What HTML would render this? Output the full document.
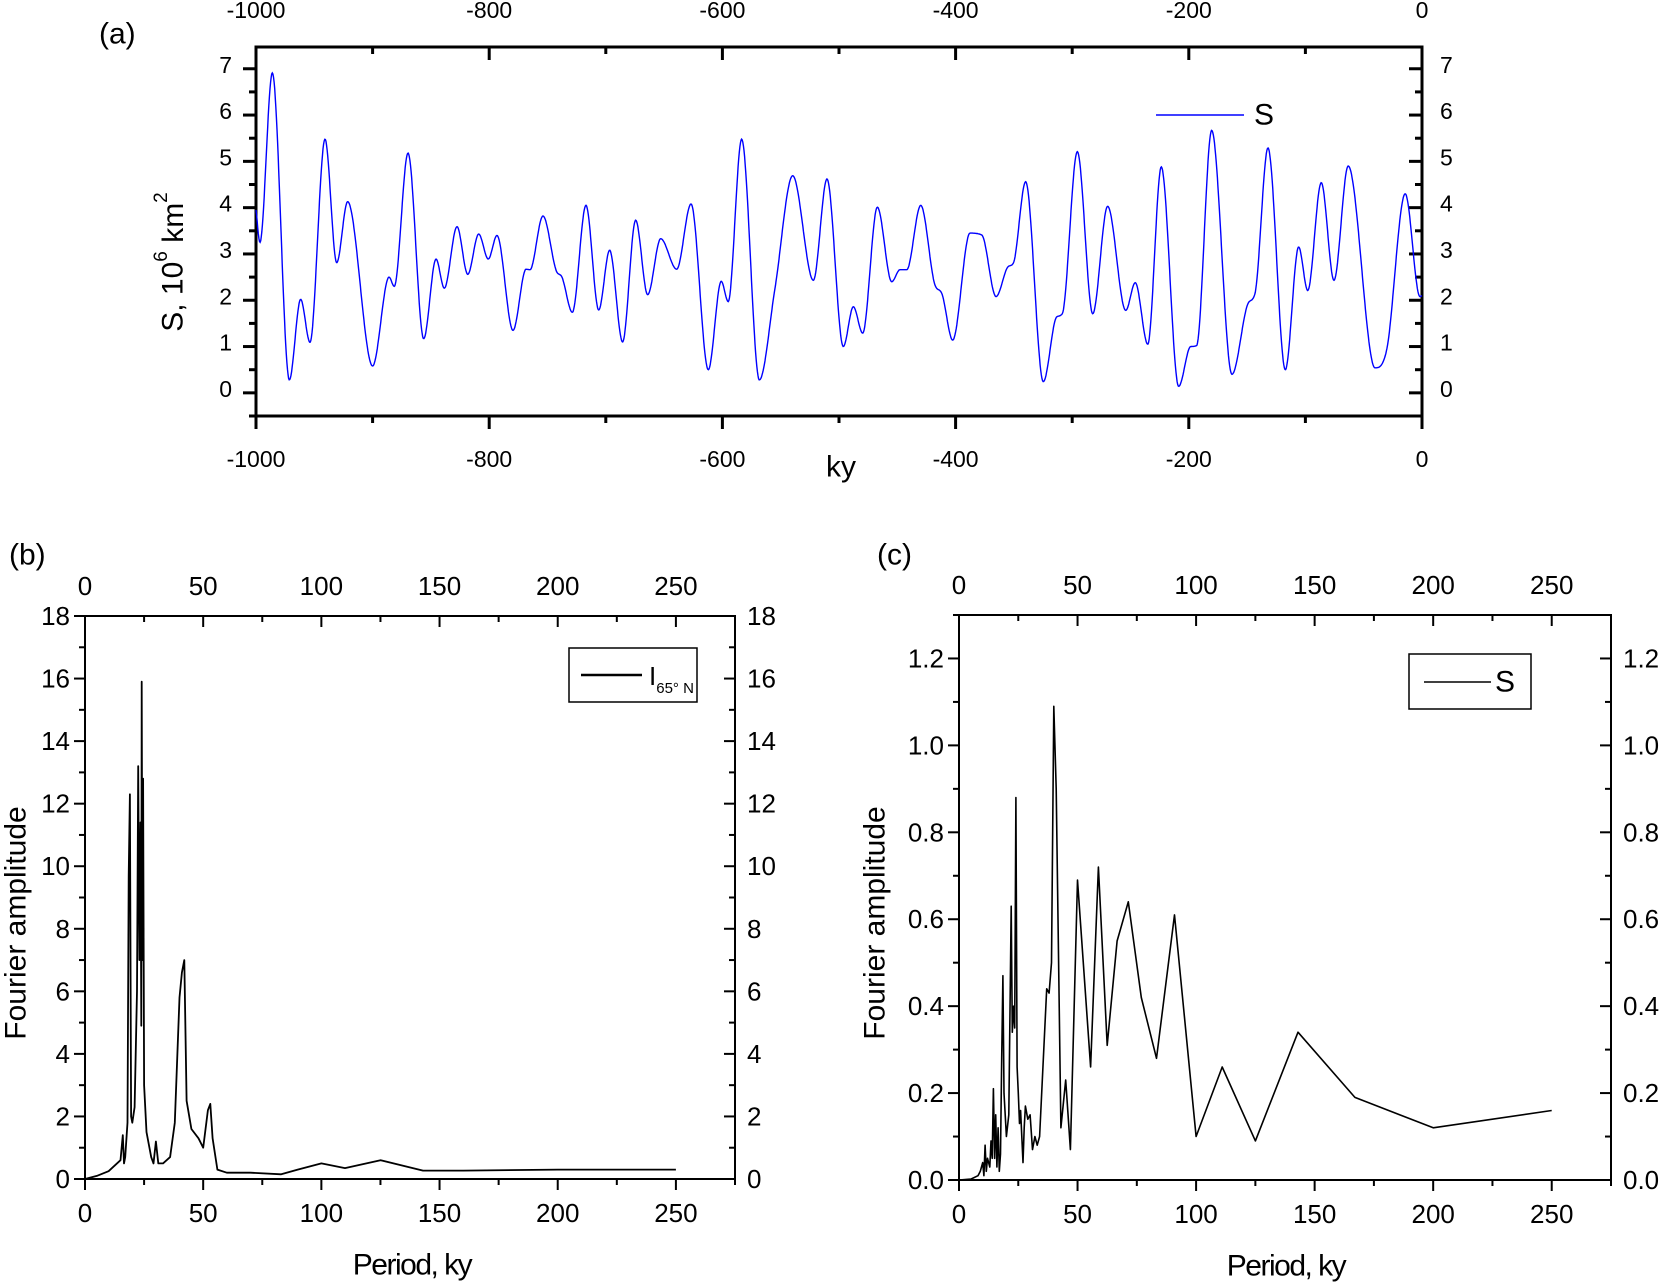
<!DOCTYPE html>
<html><head><meta charset="utf-8"><style>
html,body{margin:0;padding:0;background:#fff;}
svg{display:block;font-family:"Liberation Sans",Arial,sans-serif;}
</style></head><body>
<svg id="fig" width="1664" height="1284" viewBox="0 0 1664 1284" xmlns="http://www.w3.org/2000/svg">
<rect x="0" y="0" width="1664" height="1284" fill="#fff"/>
<g id="pa"></g>
<g id="pb"></g>
<g id="pc"></g>
</svg>
<script>
// Panel (a) data: S time series extrema (ky, 10^6 km^2)
const aTimes = [-1000,-996.6,-986.0,-971.4,-961.7,-953.7,-940.8,-930.8,-921.4,-900.0,-885.9,-881.4,-869.6,-856.2,-845.6,-838.5,-827.6,-818.4,-809.0,-800.8,-793.3,-779.6,-768.4,-765.0,-753.9,-742.2,-737.8,-728.7,-717.0,-706.1,-696.7,-685.6,-674.4,-664.1,-652.9,-639.2,-626.9,-612.1,-601.0,-595.0,-583.5,-568.3,-554.9,-539.7,-522.0,-510.3,-496.3,-487.7,-479.7,-467.1,-454.8,-447.7,-441.9,-429.9,-417.7,-411.9,-402.5,-387.7,-377.6,-365.3,-354.8,-350.5,-339.9,-324.8,-313.3,-308.5,-295.6,-282.4,-269.6,-254.1,-245.9,-235.2,-223.6,-208.7,-198.4,-193.3,-180.4,-163.0,-149.0,-143.2,-132.1,-117.2,-105.8,-98.0,-86.4,-75.5,-63.3,-40.3,-30.3,-14.4,-1.8,0];
const aValues = [3.95,3.25,6.91,0.28,2.02,1.09,5.48,2.81,4.13,0.58,2.50,2.30,5.18,1.17,2.89,2.26,3.59,2.56,3.43,2.89,3.40,1.35,2.67,2.66,3.82,2.62,2.51,1.74,4.05,1.79,3.08,1.10,3.73,2.12,3.33,2.67,4.08,0.50,2.41,1.97,5.48,0.28,2.26,4.69,2.43,4.62,1.00,1.86,1.29,4.01,2.40,2.66,2.66,4.05,2.33,2.15,1.14,3.45,3.41,2.08,2.73,2.80,4.56,0.24,1.64,1.71,5.21,1.71,4.03,1.78,2.38,1.05,4.88,0.14,1.00,1.02,5.67,0.40,1.94,2.15,5.29,0.50,3.15,2.21,4.54,2.43,4.90,0.54,0.93,4.30,2.08,2.10];
const aXTicks = [-1000,-800,-600,-400,-200,0];
const aYTicks = [0,1,2,3,4,5,6,7];
// Panel (b) data: Fourier amplitude of I65N
const bPeriods = [0,5,10,15,16,16.5,17,18,18.5,19,19.5,20,21,22,22.5,23,23.5,23.8,24,24.3,24.6,25,26,28,29,30,31,33,36,38,40,41,42,43,45,48,50,52,53,54,56,60,70,83,90,100,110,125,143,160,200,250];
const bAmps = [0,0.1,0.25,0.6,1.4,0.5,0.7,1.8,9.7,12.3,2.0,1.8,2.3,6.0,13.2,7.0,11.4,4.9,15.9,7.0,12.8,3.0,1.5,0.7,0.5,1.2,0.5,0.5,0.7,1.8,5.8,6.6,7.0,2.5,1.6,1.3,1.0,2.2,2.4,1.3,0.3,0.2,0.2,0.15,0.3,0.5,0.35,0.6,0.27,0.27,0.3,0.3];
const bXTicks = [0,50,100,150,200,250];
const bYTicks = [0,2,4,6,8,10,12,14,16,18];
// Panel (c) data: Fourier amplitude of S
const cPeriods = [0,5,8,9,10,10.5,11,11.5,12,13,13.5,14,14.5,15,15.5,16,16.5,17,17.5,18,18.5,19,20,21,22,22.5,23,23.5,24,24.5,25,25.5,26,27,27.5,28,29,30,31,32,33,34,37,38,39,40,41,43,45,47,50,55.5,58.8,62.5,66.7,71.4,76.9,83.3,90.9,100,111,125,143,167,200,250];
const cAmps = [0,0.002,0.01,0.02,0.04,0.01,0.08,0.02,0.05,0.03,0.09,0.05,0.21,0.05,0.15,0.03,0.12,0.02,0.06,0.28,0.47,0.2,0.1,0.15,0.63,0.34,0.4,0.35,0.88,0.26,0.2,0.13,0.16,0.04,0.12,0.17,0.14,0.15,0.07,0.1,0.08,0.1,0.44,0.43,0.5,1.09,0.9,0.12,0.23,0.07,0.69,0.26,0.72,0.31,0.55,0.64,0.42,0.28,0.61,0.1,0.26,0.09,0.34,0.19,0.12,0.16];
const cXTicks = [0,50,100,150,200,250];
const cYTicks = [0,0.2,0.4,0.6,0.8,1.0,1.2];

const NS='http://www.w3.org/2000/svg';
function mk(parent, tag, attrs, txt){
  const e=document.createElementNS(NS,tag);
  for(const k in attrs) e.setAttribute(k,attrs[k]);
  if(txt!==undefined) e.textContent=txt;
  parent.appendChild(e); return e;
}
function drawAxes(g, o){
  const sx=v=>o.x0+(v-o.xmin)/(o.xmax-o.xmin)*(o.x1-o.x0);
  const sy=v=>o.y1-(v-o.ymin)/(o.ymax-o.ymin)*(o.y1-o.y0);
  const fr=mk(g,'rect',{x:o.x0,y:o.y0,width:o.x1-o.x0,height:o.y1-o.y0,fill:'none',stroke:'#000','stroke-width':o.sw});
  
  
  const tk=mk(g,'g',{stroke:'#000','stroke-width':o.sw});
  
  
  for(let v=o.xmin; v<=o.xmax+1e-9; v+=o.xminor){
    const isMaj=Math.abs(((v-o.xmin)/o.xmajor)-Math.round((v-o.xmin)/o.xmajor))<1e-6;
    const L=isMaj?o.maj:o.min; const x=sx(v);
    mk(tk,'line',{x1:x,y1:o.y1,x2:x,y2:o.y1+L});
    mk(tk,'line',{x1:x,y1:o.y0,x2:x,y2:o.y0+L});
  }
  for(let v=o.yminorStart; v<=o.ymax+1e-9; v+=o.yminor){
    const isMaj=Math.abs(v/o.ymajor-Math.round(v/o.ymajor))<1e-6;
    const L=isMaj?o.maj:o.min; const y=sy(v);
    mk(tk,'line',{x1:o.x0,y1:y,x2:o.x0-L,y2:y});
    mk(tk,'line',{x1:o.x1,y1:y,x2:o.x1-L,y2:y});
  }
  o.xTicks.forEach(v=>{
    const t1=mk(g,'text',{x:sx(v),y:o.y1+o.xlabOff,'text-anchor':'middle','font-size':o.fs,'dominant-baseline':'central'},String(v));
    
    
    const t2=mk(g,'text',{x:sx(v),y:o.y0-o.xtopOff,'text-anchor':'middle','font-size':o.fs,'dominant-baseline':'central'},String(v));
    
    
  });
  o.yTicks.forEach(v=>{
    const s=o.yfmt?o.yfmt(v):String(v);
    const t1=mk(g,'text',{x:o.x0-o.ylabOff,y:sy(v)+o.ylabDy,'text-anchor':'end','font-size':o.fs,'dominant-baseline':'central'},s);
    
    
    const t2=mk(g,'text',{x:o.x1+o.yrOff,y:sy(v)+o.ylabDy,'text-anchor':'start','font-size':o.fs,'dominant-baseline':'central'},s);
    
    
  });
  return {sx,sy};
}
function monotone(xs, ys){
  const n=xs.length, d=[], m=new Array(n);
  for(let i=0;i<n-1;i++) d.push((ys[i+1]-ys[i])/(xs[i+1]-xs[i]));
  m[0]=d[0]; m[n-1]=d[n-2];
  for(let i=1;i<n-1;i++){ m[i]=(d[i-1]*d[i]<=0)?0:(d[i-1]+d[i])/2; }
  for(let i=0;i<n-1;i++){
    if(d[i]===0){m[i]=0;m[i+1]=0;continue;}
    const a=m[i]/d[i], b=m[i+1]/d[i], s=a*a+b*b;
    if(s>9){const t=3/Math.sqrt(s); m[i]=t*a*d[i]; m[i+1]=t*b*d[i];}
  }
  return x=>{
    let i=0; while(i<n-2 && x>xs[i+1]) i++;
    const h=xs[i+1]-xs[i], t=(x-xs[i])/h;
    const h00=2*t*t*t-3*t*t+1,h10=t*t*t-2*t*t+t,h01=-2*t*t*t+3*t*t,h11=t*t*t-t*t;
    return h00*ys[i]+h10*h*m[i]+h01*ys[i+1]+h11*h*m[i+1];
  };
}

// ---------- Panel A ----------
(function(){
  const g=document.getElementById('pa');
  const o={x0:256,x1:1422,y0:47,y1:416,xmin:-1000,xmax:0,ymin:-0.5,ymax:7.47,xmajor:200,xminor:100,
    ymajor:1,yminor:0.5,yminorStart:-0.5,maj:13,min:7,sw:3,fs:23,xlabOff:43,xtopOff:37,ylabOff:24,yrOff:18,ylabDy:-4,
    xTicks:aXTicks,yTicks:aYTicks};
  const {sx,sy}=drawAxes(g,o);
  const f=monotone(aTimes,aValues);
  let d='';
  for(let t=-1000;t<=0;t+=0.5){ d+=(t===-1000?'M':'L')+sx(t).toFixed(1)+','+sy(f(t)).toFixed(1); }
  const p=mk(g,'path',{d:d,fill:'none',stroke:'#0000ff','stroke-width':1.4});
  
  
  const lg=mk(g,'g',{});
  
  
  mk(lg,'line',{x1:1156,y1:115,x2:1244,y2:115,stroke:'#0000ff','stroke-width':1.4});
  mk(lg,'text',{x:1254,y:115,'font-size':30,'dominant-baseline':'central'},'S');
  const pl=mk(g,'text',{x:99,y:34,'font-size':30,'dominant-baseline':'central'},'(a)');
  
  
  const xt=mk(g,'text',{x:841,y:467,'font-size':30,'text-anchor':'middle','dominant-baseline':'central'},'ky');
  
  
  const yt=mk(g,'text',{x:0,y:0,'font-size':30,'text-anchor':'middle','dominant-baseline':'central',transform:'translate(173,262) rotate(-90)'});
  
  
  yt.innerHTML='S, 10<tspan dy="-12" font-size="19">6</tspan><tspan dy="12"> km</tspan><tspan dy="-12" font-size="19">2</tspan>';
})();

// ---------- Panel B ----------
(function(){
  const g=document.getElementById('pb');
  const o={x0:85,x1:735,y0:616,y1:1179,xmin:0,xmax:275,ymin:0,ymax:18,xmajor:50,xminor:25,
    ymajor:2,yminor:1,yminorStart:0,maj:11,min:6,sw:2,fs:26,xlabOff:34,xtopOff:30,ylabOff:15,yrOff:12,ylabDy:0,
    xTicks:bXTicks,yTicks:bYTicks};
  const {sx,sy}=drawAxes(g,o);
  const d=bPeriods.map((p,i)=>(i?'L':'M')+sx(p).toFixed(1)+','+sy(bAmps[i]).toFixed(1)).join('');
  const p=mk(g,'path',{d:d,fill:'none',stroke:'#000','stroke-width':1.8,'stroke-linejoin':'round'});
  
  
  const lg=mk(g,'g',{});
  
  
  mk(lg,'rect',{x:569,y:648,width:128,height:54,fill:'#fff',stroke:'#000','stroke-width':1.5});
  mk(lg,'line',{x1:581,y1:675,x2:642,y2:675,stroke:'#000','stroke-width':2.5});
  const lt=mk(lg,'text',{x:649,y:676,'font-size':26,'dominant-baseline':'central'});
  lt.innerHTML='I<tspan dy="12" font-size="15">65° N</tspan>';
  const pl=mk(g,'text',{x:9,y:555,'font-size':30,'dominant-baseline':'central'},'(b)');
  
  
  const xt=mk(g,'text',{x:412,y:1265,'font-size':30,'text-anchor':'middle','dominant-baseline':'central','letter-spacing':'-1.5'},'Period, ky');
  
  
  const yt=mk(g,'text',{x:0,y:0,'font-size':30,'text-anchor':'middle','dominant-baseline':'central',transform:'translate(16,923) rotate(-90)'},'Fourier amplitude');
  
  
})();

// ---------- Panel C ----------
(function(){
  const g=document.getElementById('pc');
  const o={x0:959,x1:1611,y0:615,y1:1180,xmin:0,xmax:275,ymin:0,ymax:1.3,xmajor:50,xminor:25,
    ymajor:0.2,yminor:0.1,yminorStart:0,maj:11,min:6,sw:2,fs:26,xlabOff:34,xtopOff:30,ylabOff:15,yrOff:12,ylabDy:0,
    xTicks:cXTicks,yTicks:cYTicks,yfmt:v=>v.toFixed(1)};
  const {sx,sy}=drawAxes(g,o);
  const d=cPeriods.map((p,i)=>(i?'L':'M')+sx(p).toFixed(1)+','+sy(cAmps[i]).toFixed(1)).join('');
  const p=mk(g,'path',{d:d,fill:'none',stroke:'#000','stroke-width':1.6,'stroke-linejoin':'round'});
  
  
  const lg=mk(g,'g',{});
  
  
  mk(lg,'rect',{x:1409,y:654,width:122,height:55,fill:'#fff',stroke:'#000','stroke-width':1.5});
  mk(lg,'line',{x1:1424,y1:682,x2:1491,y2:682,stroke:'#000','stroke-width':1.6});
  mk(lg,'text',{x:1495,y:682,'font-size':30,'dominant-baseline':'central'},'S');
  const pl=mk(g,'text',{x:877,y:555,'font-size':30,'dominant-baseline':'central'},'(c)');
  
  
  const xt=mk(g,'text',{x:1286,y:1266,'font-size':30,'text-anchor':'middle','dominant-baseline':'central','letter-spacing':'-1.5'},'Period, ky');
  
  
  const yt=mk(g,'text',{x:0,y:0,'font-size':30,'text-anchor':'middle','dominant-baseline':'central',transform:'translate(875,923) rotate(-90)'},'Fourier amplitude');
  
  
})();
</script>
</body></html>
